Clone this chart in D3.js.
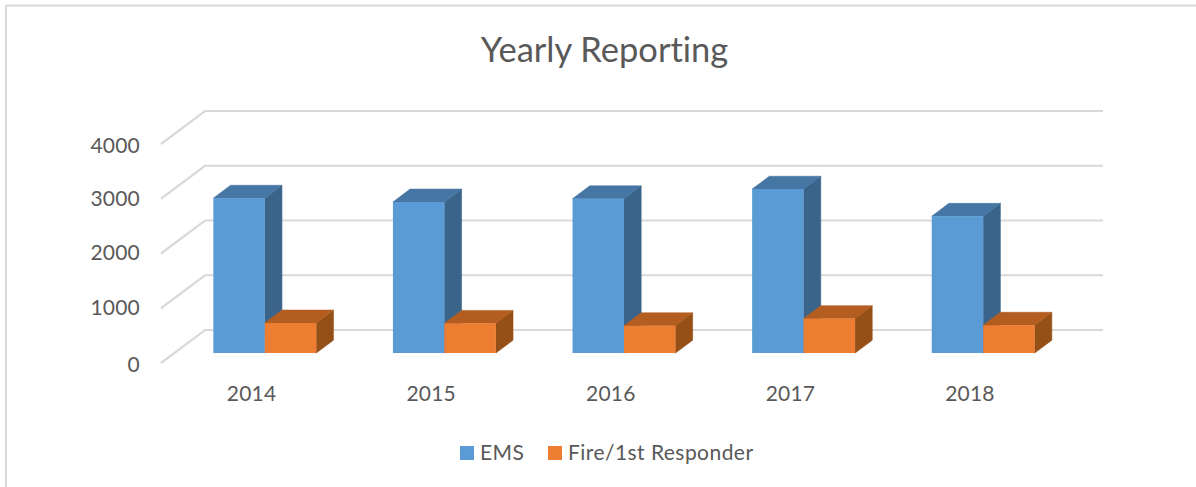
<!DOCTYPE html>
<html><head><meta charset="utf-8">
<script src="https://cdn.jsdelivr.net/npm/d3@7/dist/d3.min.js"></script>
<style>html,body{margin:0;padding:0;background:#fff}svg{display:block}text{font-family:Lato,"Open Sans",sans-serif;fill:#595959;font-variant-ligatures:none}</style>
</head><body><svg id="c" width="1196" height="487"></svg>
<script>
const title = "Yearly Reporting";
const years = ["2014","2015","2016","2017","2018"];
const seriesNames = ["EMS","Fire/1st Responder"];
const ems = [2830,2760,2820,2995,2500];
const fire = [550,545,500,630,510];
const yTicks = [0,1000,2000,3000,4000];
const frontFill = ["#5B9BD5","#ED7D31"];
const topFill = ["#4677A4","#B35E20"];
const sideFill = ["#3A648A","#955018"];

const svg = d3.select("#c");
// frame
svg.append("path").attr("d","M6 487V5.5H1196").attr("fill","none").attr("stroke","#D9D9D9").attr("stroke-width",2);

// oblique projection: depth 0 = front of floor, depth 1 = back wall
const y = d3.scaleLinear().domain([0,4000]).range([363,144]);
const depthX = d3.scaleLinear().domain([0,1]).range([0,44]);
const depthY = d3.scaleLinear().domain([0,1]).range([0,33]);
const frontLeft = 161, frontRight = 1059;
const x0 = d3.scaleBand().domain(years).range([frontLeft+0.8,frontRight+0.8]).paddingInner(0.427).paddingOuter(0.2135);
const x1 = d3.scaleBand().domain(seriesNames).range([0,x0.bandwidth()]);
const barD0 = 0.30, barD1 = 0.69;
const P = (px,v,d)=>[px+depthX(d), y(v)-depthY(d)];
const poly = pts => "M"+pts.map(p=>p.join(",")).join("L")+"Z";

// gridlines
const grid = svg.append("g");
yTicks.forEach(t=>{
  const a=P(frontLeft,t,0), b=P(frontLeft,t,1), c=P(frontRight,t,1);
  grid.append("path").attr("d",`M${a}L${b}L${c}`).attr("fill","none").attr("stroke","#D9D9D9").attr("stroke-width",2.2);
});

// y labels
svg.append("g").selectAll("text").data(yTicks).join("text")
  .attr("x",140).attr("y",d=>y(d)-(d===0?0:d===4000?0:d===3000?2:d===2000?3:2)+9)
  .attr("text-anchor","end").attr("font-size",21).attr("letter-spacing",0.2).text(d=>d);

// x labels
svg.append("g").selectAll("text").data(years).join("text")
  .attr("x",d=>x0(d)+x0.bandwidth()/2).attr("y",401)
  .attr("text-anchor","middle").attr("font-size",21).attr("letter-spacing",0.2).text(d=>d);

// bars
const seriesValues=[ems,fire];
years.forEach((yr,i)=>{
  seriesNames.forEach((s,j)=>{
    const v=seriesValues[j][i];
    const l=x0(yr)+x1(s), r=l+x1.bandwidth();
    const g=svg.append("g").attr("stroke-width",0.6).attr("stroke-linejoin","round");
    g.append("path").attr("d",poly([P(r,0,barD0),P(r,0,barD1),P(r,v,barD1),P(r,v,barD0)])).attr("fill",sideFill[j]).attr("stroke",sideFill[j]);
    g.append("path").attr("d",poly([P(l,v,barD0),P(r,v,barD0),P(r,v,barD1),P(l,v,barD1)])).attr("fill",topFill[j]).attr("stroke",topFill[j]);
    g.append("path").attr("d",poly([P(l,0,barD0),P(r,0,barD0),P(r,v,barD0),P(l,v,barD0)])).attr("fill",frontFill[j]);
  });
});

// title
svg.append("text").attr("x",604.5).attr("y",62).attr("text-anchor","middle").attr("font-size",34.5).text(title);

// legend
const legendX=[460,548];
seriesNames.forEach((s,j)=>{
  svg.append("rect").attr("x",legendX[j]).attr("y",446).attr("width",14).attr("height",14).attr("fill",frontFill[j]);
  svg.append("text").attr("x",legendX[j]+20).attr("y",460).attr("font-size",21).attr("letter-spacing",0.45).text(s);
});
</script></body></html>
